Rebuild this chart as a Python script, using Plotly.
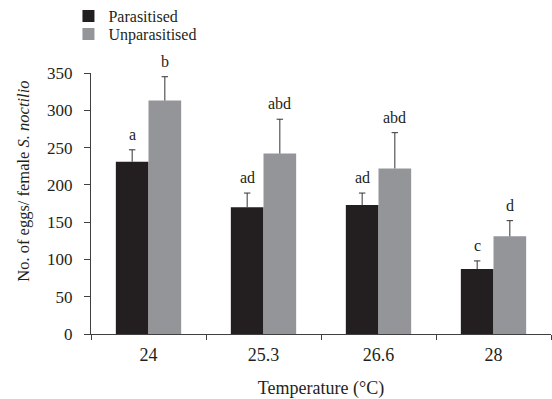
import plotly.graph_objects as go

temperatures = ["24", "25.3", "26.6", "28"]
parasitised = [231, 170, 173, 87]
parasitised_err = [16, 19, 16, 11]
unparasitised = [313, 242, 222, 131]
unparasitised_err = [32, 46, 48, 21]
letters_par = ["a", "ad", "ad", "c"]
letters_unpar = ["b", "abd", "abd", "d"]
y_ticks = [0, 50, 100, 150, 200, 250, 300, 350]

FONT = "Liberation Serif"
DARK = "#231f20"
GREY = "#939598"
AXIS = "#404040"
ERR = "#333333"
BARGAP = 0.432
CAP = 0.028  # half cap width in category units

fig = go.Figure()
fig.add_trace(go.Bar(
    name="Parasitised", x=temperatures, y=parasitised, marker_color=DARK,
    marker_line_width=0, legend="legend",
))
fig.add_trace(go.Bar(
    name="Unparasitised", x=temperatures, y=unparasitised, marker_color=GREY,
    marker_line_width=0, legend="legend2",
))

off = (1 - BARGAP) / 4
ex, ey = [], []
for i in range(len(temperatures)):
    for vals, errs, labs, sgn in ((parasitised, parasitised_err, letters_par, -1),
                                  (unparasitised, unparasitised_err, letters_unpar, 1)):
        xc = i + sgn * off
        top = vals[i] + errs[i]
        ex += [xc, xc, None, xc - CAP, xc + CAP, None]
        ey += [vals[i], top, None, top, top, None]
        fig.add_annotation(x=xc, y=top, xref="x2", text=labs[i],
                           showarrow=False, yanchor="bottom", yshift=5,
                           font=dict(family=FONT, size=16, color="#231f20"))

# plus-only error bars on an overlaid numeric axis
fig.add_trace(go.Scatter(x=ex, y=ey, xaxis="x2", mode="lines",
                         line=dict(color=ERR, width=1), showlegend=False,
                         hoverinfo="skip"))

# y-axis title placed as in the reference (offset above centre)
fig.add_annotation(xref="paper", yref="paper", x=-0.147, y=0.585,
                   text="No. of eggs/ female <i>S. noctilio</i>", textangle=-90,
                   showarrow=False, xanchor="center", yanchor="middle",
                   font=dict(family=FONT, size=16.5, color="#231f20"))

leg_common = dict(x=-0.049, xanchor="left", yref="container", yanchor="middle",
                  font=dict(family=FONT, size=16, color="#231f20"),
                  bgcolor="rgba(0,0,0,0)", itemwidth=30, borderwidth=0)

fig.update_layout(
    width=552, height=399,
    margin=dict(l=91, r=1, t=73, b=65, autoexpand=False),
    paper_bgcolor="white", plot_bgcolor="white",
    barmode="group", bargap=BARGAP, bargroupgap=0,
    font=dict(family=FONT, size=17, color="#231f20"),
    showlegend=True,
    legend=dict(y=1 - 16 / 399, **leg_common),
    legend2=dict(y=1 - 34 / 399, **leg_common),
    xaxis=dict(
        type="category", tickson="boundaries", ticks="outside", ticklen=5,
        tickcolor=AXIS, showline=True, linecolor=AXIS, linewidth=1,
        showgrid=False, tickfont=dict(family=FONT, size=18), ticklabelstandoff=4,
        title=dict(text="Temperature (°C)", font=dict(family=FONT, size=18), standoff=17),
        range=[-0.5, 3.5], automargin=False,
    ),
    xaxis2=dict(
        overlaying="x", range=[-0.5, 3.5], visible=False, showgrid=False,
        zeroline=False, automargin=False,
    ),
    yaxis=dict(
        range=[0, 350], tickvals=y_ticks, ticks="outside", ticklen=6,
        tickcolor=AXIS, showline=True, linecolor=AXIS, linewidth=1,
        showgrid=False, zeroline=False, tickfont=dict(family=FONT, size=17),
        ticklabelstandoff=8, automargin=False,
    ),
)

fig.write_html("out.html", config={"displayModeBar": False},
               post_script="document.body.style.margin='0';document.body.style.padding='0';")
